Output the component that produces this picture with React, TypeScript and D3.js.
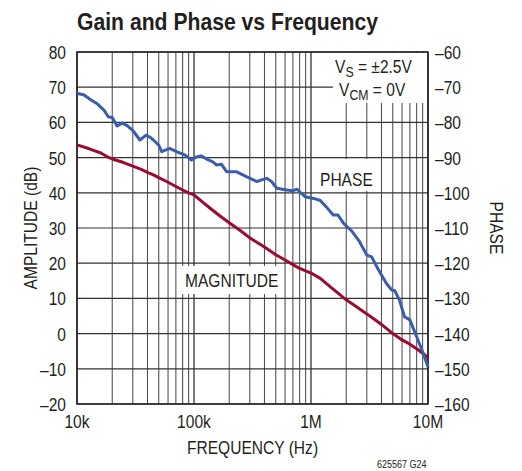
import React from "react";
import * as d3 from "d3";

const FREQ_TICKS = [1e4, 1e5, 1e6, 1e7];
const FREQ_LABELS = ["10k", "100k", "1M", "10M"];
const AMP_TICKS = [-20, -10, 0, 10, 20, 30, 40, 50, 60, 70, 80];
const PHASE_TICKS = [-160, -150, -140, -130, -120, -110, -100, -90, -80, -70, -60];

const magFreq = [1e4, 1.2e4, 1.4e4, 1.6e4, 1.8e4, 2e4, 2.5e4, 3e4, 3.5e4, 4e4, 4.5e4, 5e4, 6e4, 7e4, 8e4, 9e4, 1e5, 1.2e5, 1.4e5, 1.7e5, 2e5, 2.5e5, 3e5, 4e5, 5e5, 6e5, 7e5, 8e5, 1e6, 1.2e6, 1.5e6, 2e6, 2.5e6, 3e6, 3.5e6, 4e6, 5e6, 6e6, 7e6, 8e6, 9e6, 1e7];
const magDb = [53.6, 52.8, 52.0, 51.3, 50.3, 49.6, 48.6, 47.6, 46.7, 45.8, 45.1, 44.3, 43.0, 41.8, 40.8, 40.0, 39.4, 37.2, 35.4, 33.2, 31.5, 29.2, 27.2, 24.6, 22.4, 20.9, 19.6, 18.5, 17.2, 15.7, 13.0, 9.6, 7.4, 5.6, 4.0, 2.6, 0.0, -1.8, -3.0, -4.3, -5.6, -6.8];

const phaseFreq = [1e4, 1.15e4, 1.3e4, 1.5e4, 1.7e4, 1.85e4, 2.0e4, 2.2e4, 2.45e4, 2.7e4, 3.0e4, 3.45e4, 3.9e4, 4.2e4, 4.5e4, 5.0e4, 5.3e4, 6.2e4, 7e4, 8.4e4, 9.5e4, 1.05e5, 1.15e5, 1.3e5, 1.45e5, 1.56e5, 1.72e5, 1.9e5, 2.3e5, 2.8e5, 3.45e5, 3.9e5, 4.2e5, 4.6e5, 5.1e5, 6.2e5, 7.0e5, 7.6e5, 8.0e5, 8.9e5, 1.05e6, 1.2e6, 1.35e6, 1.55e6, 1.7e6, 1.9e6, 2.25e6, 2.6e6, 3.0e6, 3.3e6, 3.75e6, 4.4e6, 4.9e6, 5.2e6, 5.7e6, 6.3e6, 7.0e6, 8.0e6, 9.1e6, 1e7];
const phaseDeg = [-71.7, -72.2, -73.5, -74.8, -76.5, -78.4, -78.6, -81.0, -80.2, -81.0, -82.3, -85.0, -83.6, -84.2, -85.0, -86.5, -88.3, -87.4, -88.2, -89.3, -90.7, -89.8, -89.5, -90.5, -91.2, -92.1, -91.9, -94.0, -94.0, -95.4, -96.8, -96.2, -95.9, -96.8, -98.7, -99.2, -99.4, -99.0, -99.7, -101.1, -101.6, -102.2, -104.0, -106.3, -106.3, -108.7, -111.0, -113.9, -117.7, -118.2, -121.7, -125.7, -127.6, -127.8, -130.5, -135.2, -136.1, -140.9, -145.6, -149.5];

const FONT = "'Liberation Sans', Arial, sans-serif";
const INK = "#231f20";

function T(props: {
  x: number; y: number; anchor?: string; size?: number; rot?: number; weight?: number; children: React.ReactNode;
}) {
  const { x, y, anchor = "start", size = 19, rot = 0, weight = 400, children } = props;
  return (
    <text
      transform={`translate(${x},${y}) rotate(${rot}) scale(0.82,1)`}
      textAnchor={anchor}
      fontFamily={FONT}
      fontSize={size}
      fontWeight={weight}
      fill={INK}
    >
      {children}
    </text>
  );
}

export default function App() {
  const L = 77, R = 428, Tp = 52, B = 404;
  const x = d3.scaleLog().domain([1e4, 1e7]).range([L, R]);
  const yA = d3.scaleLinear().domain([-20, 80]).range([B, Tp]);
  const yP = d3.scaleLinear().domain([-160, -60]).range([B, Tp]);

  const minor: number[] = [];
  for (let dec = 1e4; dec < 1e7; dec *= 10) {
    for (let m = 2; m <= 9; m++) minor.push(dec * m);
  }

  const magLine = d3.line<number>().x((_, i) => x(magFreq[i])).y((d) => yA(d));
  const phLine = d3.line<number>().x((_, i) => x(phaseFreq[i])).y((d) => yP(d));

  return (
    <svg width={522} height={471} style={{ position: "absolute", left: 0, top: 0, background: "#fff" }}>
      <text x={77} y={30} fontFamily={FONT} fontWeight={700} fontSize={24} fill={INK} textLength={301} lengthAdjust="spacingAndGlyphs">
        Gain and Phase vs Frequency
      </text>
      {minor.map((f) => (
        <line key={"m" + f} x1={x(f)} x2={x(f)} y1={Tp} y2={B} stroke="#444" strokeWidth={1} />
      ))}
      {FREQ_TICKS.map((f) => (
        <line key={"M" + f} x1={x(f)} x2={x(f)} y1={Tp} y2={B} stroke="#222" strokeWidth={1.2} />
      ))}
      {AMP_TICKS.map((v) => (
        <line key={"h" + v} x1={L} x2={R} y1={yA(v)} y2={yA(v)} stroke="#333" strokeWidth={1.2} />
      ))}
      <rect x={333} y={Tp + 1} width={R - 333 - 1} height={50} fill="#fff" />
      <rect x={315} y={159} width={60} height={32} fill="#fff" />
      <rect x={181} y={266} width={98} height={28} fill="#fff" />
      <rect x={L} y={Tp} width={R - L} height={B - Tp} fill="none" stroke={INK} strokeWidth={1.5} />
      <path d={magLine(magDb) || ""} fill="none" stroke="#9a0b2f" strokeWidth={3} strokeLinejoin="round" />
      <path d={phLine(phaseDeg) || ""} fill="none" stroke="#3a5dac" strokeWidth={3} strokeLinejoin="round" />
      <T x={335} y={73}>
        V<tspan dy={4} fontSize={15}>S</tspan><tspan dy={-4}> = ±2.5V</tspan>
      </T>
      <T x={339} y={96}>
        V<tspan dy={4} fontSize={15}>CM</tspan><tspan dy={-4}> = 0V</tspan>
      </T>
      <T x={320} y={186}>PHASE</T>
      <T x={185} y={287}>MAGNITUDE</T>
      {AMP_TICKS.map((v) => (
        <T key={"la" + v} x={66} y={yA(v) + 7} anchor="end">
          {v < 0 ? "\u2013" + Math.abs(v) : String(v)}
        </T>
      ))}
      {PHASE_TICKS.map((v) => (
        <T key={"rp" + v} x={435} y={yP(v) + 7}>
          {"\u2013" + Math.abs(v)}
        </T>
      ))}
      {FREQ_TICKS.map((f, i) => (
        <T key={"bx" + f} x={x(f)} y={428} anchor="middle">
          {FREQ_LABELS[i]}
        </T>
      ))}
      <T x={(L + R) / 2} y={454} anchor="middle">FREQUENCY (Hz)</T>
      <T x={37} y={(Tp + B) / 2} rot={-90} anchor="middle">AMPLITUDE (dB)</T>
      <T x={490} y={(Tp + B) / 2} rot={90} anchor="middle">PHASE</T>
      <T x={377} y={468} size={11}>625567 G24</T>
    </svg>
  );
}
